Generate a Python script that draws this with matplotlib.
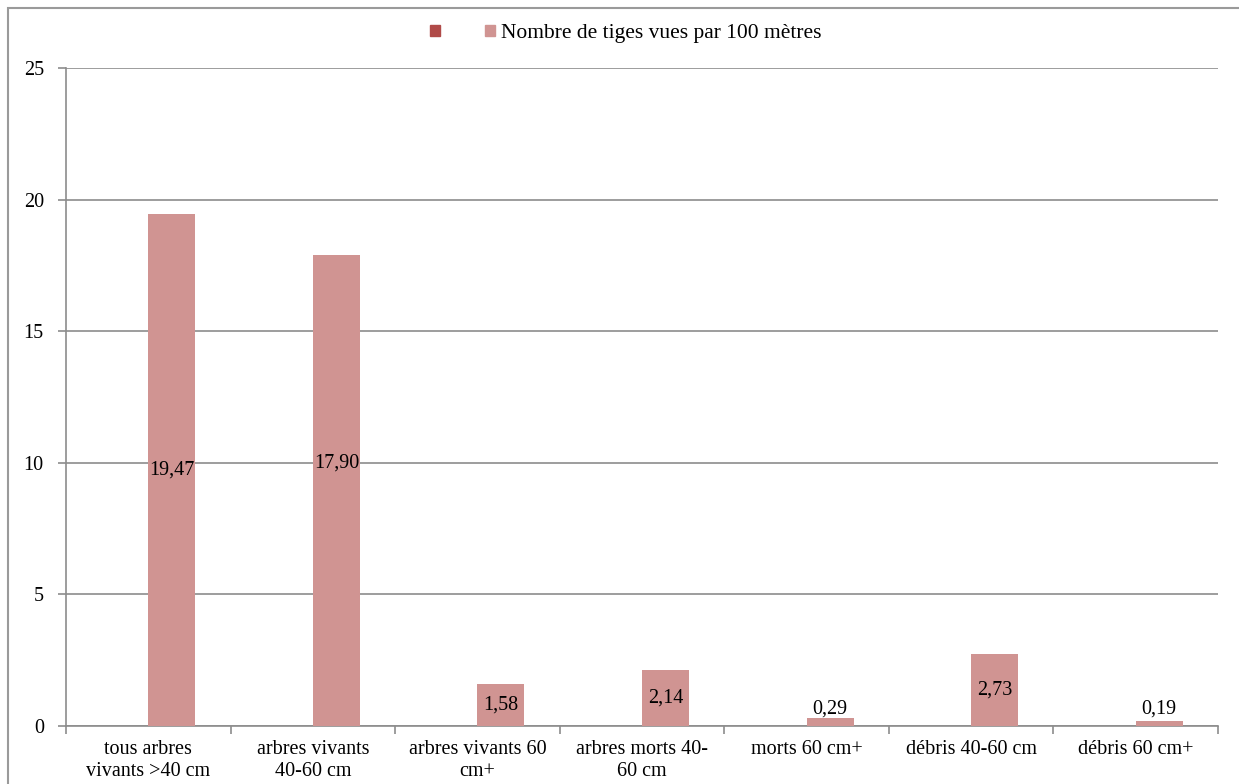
import numpy as np
import matplotlib
matplotlib.use("Agg")
import matplotlib.pyplot as plt
from matplotlib.patches import Patch, Rectangle

# data
categories = ["tous arbres\nvivants >40 cm", "arbres vivants\n40-60 cm", "arbres vivants 60\ncm+",
              "arbres morts 40-\n60 cm", "morts 60 cm+", "débris 40-60 cm", "débris 60 cm+"]
series1 = [0, 0, 0, 0, 0, 0, 0]                       # empty first series (legend only)
tiges = [19.47, 17.90, 1.58, 2.14, 0.29, 2.73, 0.19]   # Nombre de tiges vues par 100 mètres
series_name = "Nombre de tiges vues par 100 mètres"
label_y = [9.73, 10.0, 0.79, 1.07, 0.65, 1.36, 0.65]   # where each value label sits

plt.rcParams['font.family'] = ['Liberation Serif', 'DejaVu Serif']
col1 = "#B04A48"
col2 = "#D09492"
grid_col = "#8C8C8C"
fs = 14.5

fig = plt.figure(figsize=[12.39, 7.84], dpi=100)
ax = fig.add_axes([66/1239, 1-726/784, (1218-66)/1239, (726-68)/784])

# frame of the chart area (only top/left visible in the crop)
fig.patches.append(Rectangle((8/1239, -0.1), 1.2, 1-8/784+0.1, transform=fig.transFigure,
                             fill=False, edgecolor="#9A9A9A", linewidth=1.5))

x = np.arange(len(categories))
w = 1/3.5
ax.bar(x - w/2, series1, width=w, color=col1, zorder=3)
ax.bar(x + w/2, tiges, width=w, color=col2, zorder=3)

# value labels, formatted with comma decimal
for xi, v, ly in zip(x, tiges, label_y):
    ax.text(xi + w/2, ly, f"{v:.2f}".replace(".", ","), ha="center", va="center",
            fontsize=fs, zorder=4)

ax.set_xlim(-0.5, len(categories) - 0.5)
ax.set_ylim(0, 25)
ax.set_yticks(np.arange(0, 26, 5))
ax.yaxis.grid(True, color=grid_col, linewidth=1.2, zorder=0)
ax.set_axisbelow(True)
ax.tick_params(axis="y", length=6, width=1.2, color=grid_col, labelsize=fs, pad=10)

# category boundaries as tick marks, labels at centres
ax.set_xticks(np.arange(-0.5, len(categories)), labels=[""] * (len(categories) + 1))
ax.set_xticks(x, labels=categories, minor=True)
ax.tick_params(axis="x", which="major", length=6, width=1.2, color=grid_col)
ax.tick_params(axis="x", which="minor", length=0, labelsize=fs, pad=10)

for s in ["top", "right"]:
    ax.spines[s].set_visible(False)
for s in ["left", "bottom"]:
    ax.spines[s].set_color(grid_col)
    ax.spines[s].set_linewidth(1.2)

handles = [Patch(color=col1), Patch(color=col2)]
fig.legend(handles, ["", series_name], loc="center", bbox_to_anchor=(0.505, 0.957), ncol=2,
           frameon=False, fontsize=15.5, handlelength=0.45, handleheight=0.45,
           handletextpad=0.3, columnspacing=1.8)

fig.savefig("out.png", dpi=100)
